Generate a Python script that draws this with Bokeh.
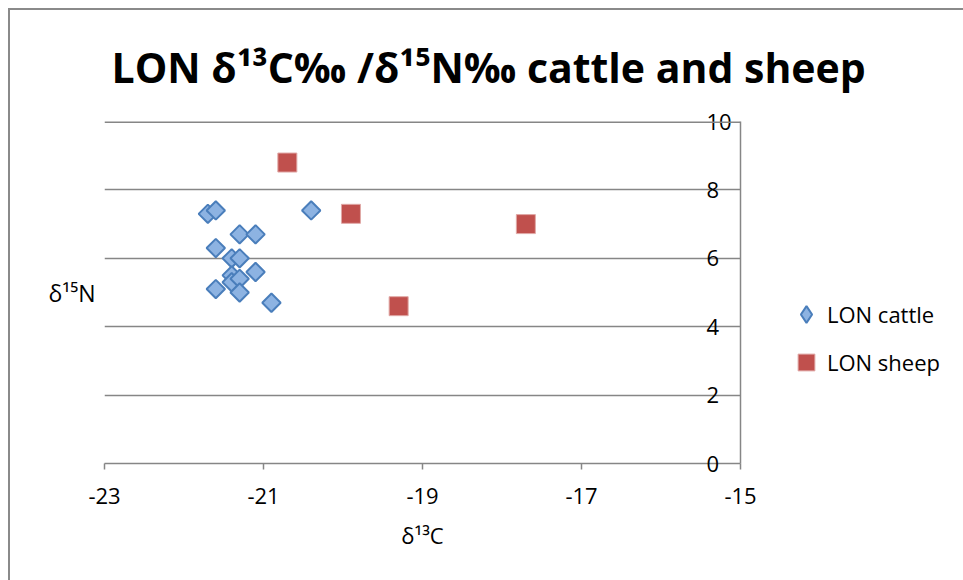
import math
from bokeh.plotting import figure
from bokeh.models import (Range1d, LinearAxis, FixedTicker, Grid, Legend, LegendItem, Span)
from bokeh.embed import file_html
from bokeh.resources import INLINE

# ---- data ----
cattle_d13c = [-21.7, -21.6, -20.4, -21.3, -21.1, -21.6, -21.4, -21.3, -21.1, -21.4, -21.4, -21.3, -21.6, -21.3, -20.9]
cattle_d15n = [7.3, 7.4, 7.4, 6.7, 6.7, 6.3, 6.0, 6.0, 5.6, 5.5, 5.3, 5.4, 5.1, 5.0, 4.7]
sheep_d13c = [-20.7, -19.9, -17.7, -19.3]
sheep_d15n = [8.8, 7.3, 7.0, 4.6]
x_ticks = [-23, -21, -19, -17, -15]
x_tick_labels = ["-23", "-21", "-19", "-17", "-15"]
y_ticks = [0, 2, 4, 6, 8, 10]
y_tick_labels = ["0", "2", "4", "6", "8", "10"]
title_text = "LON  δ¹³C‰ /δ¹⁵N‰ cattle and sheep"
x_label = "δ¹³C"
y_label = "δ¹⁵N"
series_names = ["LON cattle", "LON sheep"]

FONT = "Open Sans"
GRAY = "#868686"
CATTLE_FILL, CATTLE_LINE = "#8DB3E2", "#4A7EBB"
SHEEP_FILL, SHEEP_LINE = "#C0504D", "#E0A8A6"

p = figure(frame_width=636, frame_height=342,
           min_border_left=94, min_border_right=223, min_border_top=111, min_border_bottom=117,
           x_range=Range1d(x_ticks[0], x_ticks[-1]), y_range=Range1d(y_ticks[0], y_ticks[-1]),
           output_backend="svg", toolbar_location=None, y_axis_location=None,
           background_fill_color="white", border_fill_color="white", outline_line_color=None,
           title=title_text)
p.styles = {"margin-left": "8px", "margin-top": "8px",
            "border-left": "2px solid #8a8a8a", "border-top": "2px solid #8a8a8a"}

# remove default grids
p.center = [r for r in p.center if not isinstance(r, Grid)]
p.add_layout(Grid(dimension=1, ticker=FixedTicker(ticks=y_ticks),
                  grid_line_color=GRAY, grid_line_width=1.5))
# top gridline (grid skips range ends)
p.add_layout(Span(location=y_ticks[-1], dimension="width", line_color=GRAY, line_width=3))

# title
p.title.align = "left"
p.title.offset = 7
p.title.standoff = 53
p.title.text_font = FONT
p.title.text_font_size = "41px"
p.title.text_font_style = "bold"
p.title.text_color = "black"

# x axis
xa = p.xaxis[0]
xa.ticker = FixedTicker(ticks=x_ticks)
xa.major_label_overrides = {t: l for t, l in zip(x_ticks, x_tick_labels)}
xa.axis_line_color = GRAY
xa.axis_line_width = 1.5
xa.major_tick_line_color = GRAY
xa.major_tick_line_width = 1.5
xa.major_tick_out = 6
xa.major_tick_in = 0
xa.minor_tick_line_color = None
xa.major_label_text_font = FONT
xa.major_label_text_font_size = "22px"
xa.major_label_text_color = "black"
xa.major_label_standoff = 18
xa.axis_label = x_label
xa.axis_label_text_font = FONT
xa.axis_label_text_font_size = "22px"
xa.axis_label_text_font_style = "normal"
xa.axis_label_text_color = "black"
xa.axis_label_standoff = 13

# left axis only for the horizontal title
yl = LinearAxis(ticker=FixedTicker(ticks=[]), axis_label=y_label,
                axis_label_orientation="horizontal", axis_line_color=None,
                major_tick_line_color=None, minor_tick_line_color=None,
                axis_label_text_font=FONT, axis_label_text_font_size="23px",
                axis_label_text_font_style="normal", axis_label_text_color="black",
                axis_label_standoff=9)
p.add_layout(yl, "left")

# right vertical axis, labels on its inner side
ya = LinearAxis(ticker=FixedTicker(ticks=y_ticks),
                major_label_overrides={t: l for t, l in zip(y_ticks, y_tick_labels)},
                axis_line_color=GRAY, axis_line_width=1.5,
                major_tick_in=0, major_tick_out=0, minor_tick_line_color=None,
                major_label_standoff=-34,
                major_label_text_font=FONT, major_label_text_font_size="22px",
                major_label_text_color="black")
p.add_layout(ya, "right")

# legend swatch for the diamonds (legend glyphs are drawn unrotated); it sits
# underneath the first cattle marker, so it is hidden in the plot itself
r1_key = p.scatter(cattle_d13c[:1], cattle_d15n[:1], marker="diamond", size=13,
                   fill_color=CATTLE_FILL, line_color=CATTLE_LINE, line_width=2)
# series
r1 = p.scatter(cattle_d13c, cattle_d15n, marker="square", size=13, angle=math.pi / 4,
               fill_color=CATTLE_FILL, line_color=CATTLE_LINE, line_width=2)
r2 = p.scatter(sheep_d13c, sheep_d15n, marker="square", size=19,
               fill_color=SHEEP_FILL, line_color=SHEEP_LINE, line_width=1)

legend = Legend(items=[LegendItem(label=series_names[0], renderers=[r1_key]),
                       LegendItem(label=series_names[1], renderers=[r2])],
                location=(-185, 80), glyph_width=42, glyph_height=42, label_height=30,
                label_standoff=-5, spacing=6, padding=0, margin=0,
                border_line_color=None, background_fill_alpha=0,
                label_text_font=FONT, label_text_font_size="22px", label_text_color="black")
p.add_layout(legend, "right")

open("out.html", "w").write(file_html(p, INLINE))
